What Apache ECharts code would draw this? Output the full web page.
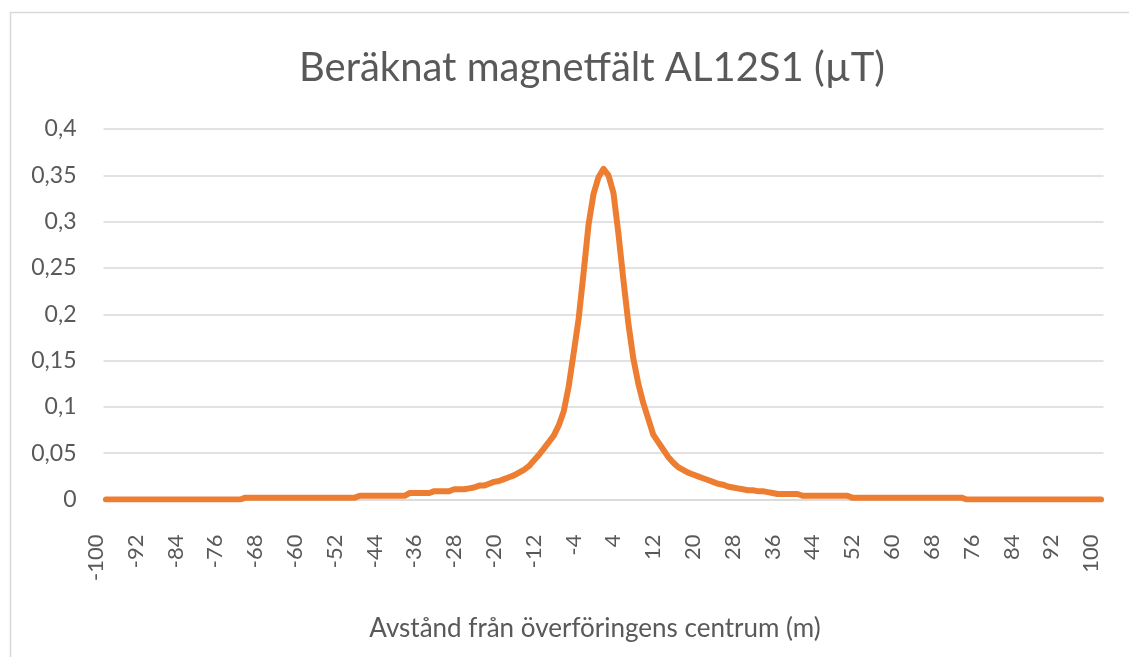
<!DOCTYPE html>
<html>
<head>
<meta charset="utf-8">
<script src="https://cdn.jsdelivr.net/npm/echarts@6/dist/echarts.min.js"></script>
<style>
html,body{margin:0;padding:0;background:#fff;}
#chart{width:1129px;height:657px;}
</style>
</head>
<body>
<div id="chart"></div>
<script>
// Distance from centre of the line (m)
const distances = [
-100,-99,-98,-97,-96,-95,-94,-93,-92,-91,-90,-89,-88,-87,-86,-85,-84,-83,-82,-81,
-80,-79,-78,-77,-76,-75,-74,-73,-72,-71,-70,-69,-68,-67,-66,-65,-64,-63,-62,-61,
-60,-59,-58,-57,-56,-55,-54,-53,-52,-51,-50,-49,-48,-47,-46,-45,-44,-43,-42,-41,
-40,-39,-38,-37,-36,-35,-34,-33,-32,-31,-30,-29,-28,-27,-26,-25,-24,-23,-22,-21,
-20,-19,-18,-17,-16,-15,-14,-13,-12,-11,-10,-9,-8,-7,-6,-5,-4,-3,-2,-1,
0,1,2,3,4,5,6,7,8,9,10,11,12,13,14,15,16,17,18,19,
20,21,22,23,24,25,26,27,28,29,30,31,32,33,34,35,36,37,38,39,
40,41,42,43,44,45,46,47,48,49,50,51,52,53,54,55,56,57,58,59,
60,61,62,63,64,65,66,67,68,69,70,71,72,73,74,75,76,77,78,79,
80,81,82,83,84,85,86,87,88,89,90,91,92,93,94,95,96,97,98,99,100
];

// Calculated magnetic field (µT)
const fieldValues = [
// -100 .. -73
0,0,0,0,0,0,0,0,0,0,0,0,0,0,0,0,0,0,0,0,0,0,0,0,0,0,0,0,
// -72 .. -50
0.002,0.002,0.002,0.002,0.002,0.002,0.002,0.002,0.002,0.002,0.002,0.002,
0.002,0.002,0.002,0.002,0.002,0.002,0.002,0.002,0.002,0.002,0.002,
// -49 .. -40
0.004,0.004,0.004,0.004,0.004,0.004,0.004,0.004,0.004,0.004,
// -39 .. -35
0.007,0.007,0.007,0.007,0.007,
// -34 .. -31
0.009,0.009,0.009,0.009,
// -30 .. -28
0.011,0.011,0.011,
// -27 .. -1
0.012,0.013,0.015,0.015,0.017,0.019,0.020,0.022,0.024,0.026,
0.029,0.032,0.036,0.042,0.048,0.055,0.062,0.069,0.080,0.095,
0.122,0.158,0.195,0.245,0.297,0.330,0.348,
// 0
0.357,
// 1 .. 34
0.350,0.331,0.287,0.237,0.190,0.152,0.125,0.104,0.087,0.070,
0.062,0.054,0.046,0.040,0.035,0.032,0.029,0.027,0.025,0.023,
0.021,0.019,0.017,0.016,0.014,0.013,0.012,0.011,0.010,0.010,
0.009,0.009,0.008,0.007,
// 35 .. 39
0.006,0.006,0.006,0.006,0.006,
// 40 .. 49
0.004,0.004,0.004,0.004,0.004,0.004,0.004,0.004,0.004,0.004,
// 50 .. 72
0.002,0.002,0.002,0.002,0.002,0.002,0.002,0.002,0.002,0.002,0.002,0.002,
0.002,0.002,0.002,0.002,0.002,0.002,0.002,0.002,0.002,0.002,0.002,
// 73 .. 100
0,0,0,0,0,0,0,0,0,0,0,0,0,0,0,0,0,0,0,0,0,0,0,0,0,0,0,0
];

const yTickLabels = ['0','0,05','0,1','0,15','0,2','0,25','0,3','0,35','0,4'];

const chartTitle = 'Beräknat magnetfält AL12S1 (µT)';
const xAxisTitle = 'Avstånd från överföringens centrum (m)';

const FONT = 'Lato, "Open Sans", sans-serif';
const TXT = '#595959';
const GRID = '#d9d9d9';

const chart = echarts.init(document.getElementById('chart'), null, {renderer: 'canvas'});
chart.setOption({
  backgroundColor: '#ffffff',
  animation: false,
  graphic: [{
    type: 'rect',
    shape: {x: 10.5, y: 12.5, width: 1300, height: 800},
    style: {fill: 'none', stroke: GRID, lineWidth: 1.5},
    silent: true
  }],
  title: [{
    text: chartTitle,
    left: 587, top: 43, textAlign: 'center',
    textStyle: {fontFamily: FONT, fontSize: 40, fontWeight: 'normal', color: TXT}
  }, {
    text: xAxisTitle,
    left: 590, top: 611, textAlign: 'center',
    textStyle: {fontFamily: FONT, fontSize: 26, fontWeight: 'normal', color: TXT}
  }],
  grid: {left: 103.5, top: 129, width: 1000, height: 370.5, containLabel: false},
  xAxis: {
    type: 'category',
    data: distances,
    boundaryGap: true,
    axisLine: {show: true, lineStyle: {color: GRID, width: 1.5}},
    axisTick: {show: false},
    axisLabel: {
      interval: 7, rotate: 90, margin: 35,
      fontFamily: FONT, fontSize: 22, color: TXT,
      verticalAlign: 'bottom', lineHeight: 20
    },
    splitLine: {show: false}
  },
  yAxis: {
    type: 'value',
    min: 0, max: 0.4, interval: 0.05,
    axisLine: {show: false},
    axisTick: {show: false},
    axisLabel: {
      margin: 27, fontFamily: FONT, fontSize: 23, color: TXT,
      formatter: function (v) { return yTickLabels[Math.round(v / 0.05)]; }
    },
    splitLine: {show: true, lineStyle: {color: GRID, width: 1.5}}
  },
  series: [{
    type: 'line',
    data: fieldValues,
    symbol: 'none',
    smooth: false,
    lineStyle: {color: '#ED7D31', width: 6, cap: 'round', join: 'round'},
    z: 3
  }]
});
</script>
</body>
</html>
